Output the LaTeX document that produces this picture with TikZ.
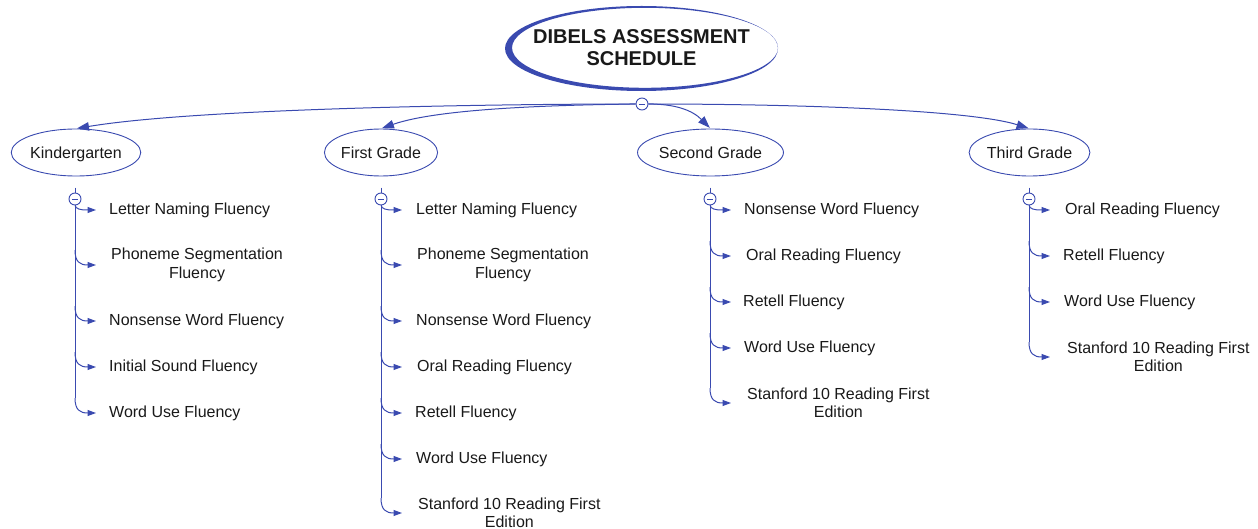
\documentclass[tikz,border=0pt]{standalone}
\usepackage{fontspec}
\setmainfont{Liberation Sans}
\usetikzlibrary{arrows.meta,calc,shapes.geometric}
\definecolor{lineblue}{RGB}{58,74,176}
\definecolor{txt}{RGB}{25,25,25}
\begin{document}
\begin{tikzpicture}[x=1pt,y=-1pt,
  every node/.style={text=txt},
  gradebox/.style={draw=lineblue, line width=0.9pt, ellipse, fill=white, minimum height=47pt, inner sep=0pt, text height=11.6pt, text depth=0pt, font=\fontsize{16}{18}\selectfont},
  item/.style={anchor=west, align=center, inner sep=0pt, yshift=-1pt, font=\fontsize{16}{18.5}\selectfont},
  toggle/.style={circle, draw=lineblue, fill=white, line width=0.9pt, minimum size=12pt, inner sep=0pt,
    path picture={\draw[lineblue, line width=0.9pt] ($(path picture bounding box.center)+(-3.2pt,0)$) -- ($(path picture bounding box.center)+(3.2pt,0)$);}},
  blueline/.style={draw=lineblue, line width=1pt},
  toparrow/.style={blueline, -{Triangle[length=12pt,width=8.5pt]}, shorten >=1pt},
  kidarrow/.style={blueline, -{Triangle[length=8.5pt,width=6pt]}},
]
\useasboundingbox (0,0) rectangle (1258,529);

% root
\fill[lineblue, even odd rule] (641.5,48.5) ellipse [x radius=136.5, y radius=42.5]
  (645,47.8) ellipse [x radius=133, y radius=40];
\node[ellipse, minimum width=273pt, minimum height=85pt, inner sep=0pt, align=center,
  font=\fontsize{20}{22}\selectfont\bfseries] (root) at (641.5,48) {DIBELS ASSESSMENT\\SCHEDULE};

% grade nodes
\node[gradebox, minimum width=128pt] (kg) at (76,152.5) {Kindergarten};
\node[gradebox, minimum width=112pt] (fg) at (381,152.5) {First Grade};
\node[gradebox, minimum width=135pt] (sg) at (710.5,152.5) {Second Grade};
\node[gradebox, minimum width=117pt] (tg) at (1029.5,152.5) {Third Grade};

\node[toggle] (hub) at (642,104) {};

\draw[toparrow] (hub.west) .. controls (500,104) and (200,108) .. (kg.north);
\draw[toparrow] (hub.west) .. controls (560,105) and (440,108) .. (fg.north);
\draw[toparrow] (hub.east) .. controls (675,104) and (692,110) .. (sg.north);
\draw[toparrow] (hub.east) .. controls (800,104) and (970,110) .. (tg.north);

% Kindergarten list
\node[toggle] (kt) at (75,199) {};
\node[item] (k1) at (109,209) {Letter Naming Fluency};
\node[item] (k2) at (111,264) {Phoneme Segmentation\\Fluency};
\node[item] (k3) at (109,320) {Nonsense Word Fluency};
\node[item] (k4) at (109,366) {Initial Sound Fluency};
\node[item] (k5) at (109,412) {Word Use Fluency};

% First grade list
\node[toggle] (ft) at (381,199) {};
\node[item] (f1) at (416,209) {Letter Naming Fluency};
\node[item] (f2) at (417,264) {Phoneme Segmentation\\Fluency};
\node[item] (f3) at (416,320) {Nonsense Word Fluency};
\node[item] (f4) at (417,366) {Oral Reading Fluency};
\node[item] (f5) at (415,412) {Retell Fluency};
\node[item] (f6) at (416,458) {Word Use Fluency};
\node[item] (f7) at (418,512) {Stanford 10 Reading First\\Edition};

% Second grade list
\node[toggle] (st) at (710,199) {};
\node[item] (s1) at (744,209) {Nonsense Word Fluency};
\node[item] (s2) at (746,255) {Oral Reading Fluency};
\node[item] (s3) at (743,301) {Retell Fluency};
\node[item] (s4) at (744,347) {Word Use Fluency};
\node[item] (s5) at (747,402) {Stanford 10 Reading First\\Edition};

% Third grade list
\node[toggle] (tt) at (1029,199) {};
\node[item] (t1) at (1065,209) {Oral Reading Fluency};
\node[item] (t2) at (1063,255) {Retell Fluency};
\node[item] (t3) at (1064,301) {Word Use Fluency};
\node[item] (t4) at (1067,356) {Stanford 10 Reading First\\Edition};

% spines
\foreach \tg/\last in {kt/k5, ft/f7, st/s5, tt/t4}{
  \draw[blueline] ($(\tg.north)+(0,-5)$) -- (\tg.north);
  \draw[blueline] (\tg.south) -- ($(\tg |- \last)+(0,-15)$);
}
% first child of each list starts at the toggle
\foreach \tg/\c in {kt/k1, ft/f1, st/s1, tt/t1}{
  \draw[kidarrow] (\tg.south) .. controls ($(\tg |- \c)+(1,-1)$) and ($(\tg |- \c)+(5,0)$) .. ($(\tg |- \c)+(21,0)$);
}
% other children
\foreach \tg/\c in {kt/k2, kt/k3, kt/k4, kt/k5,
                    ft/f2, ft/f3, ft/f4, ft/f5, ft/f6, ft/f7,
                    st/s2, st/s3, st/s4, st/s5,
                    tt/t2, tt/t3, tt/t4}{
  \draw[kidarrow] ($(\tg |- \c)+(0,-15)$) .. controls ($(\tg |- \c)+(0,-3)$) and ($(\tg |- \c)+(5,0)$) .. ($(\tg |- \c)+(21,0)$);
}
\end{tikzpicture}
\end{document}
